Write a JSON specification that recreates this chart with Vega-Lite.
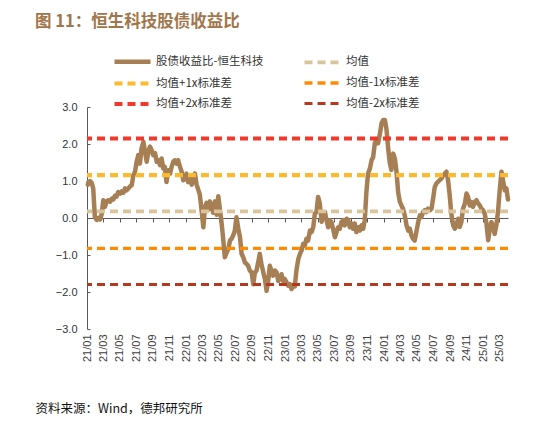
{
  "$schema": "https://vega.github.io/schema/vega-lite/v6.json",
  "width": 421,
  "height": 222,
  "autosize": {"type": "none"},
  "padding": {"left": 87, "top": 107, "right": 44, "bottom": 99},
  "background": "white",
  "config": {
    "view": {"stroke": null},
    "font": "Liberation Sans"
  },
  "title": {
    "text": "图 11：恒生科技股债收益比",
    "anchor": "start",
    "frame": "group",
    "dx": -52,
    "offset": 23,
    "font": "Noto Sans CJK SC",
    "fontSize": 16.5,
    "fontWeight": "bold",
    "color": "#A0764C"
  },
  "datasets": {
    "ratio": [
      {"d": "2021-01-04", "v": 0.90}, {"d": "2021-01-06", "v": 0.97}, {"d": "2021-01-12", "v": 1.00}, {"d": "2021-01-18", "v": 0.95},
      {"d": "2021-01-24", "v": 0.80}, {"d": "2021-01-30", "v": 0.02}, {"d": "2021-02-06", "v": -0.05}, {"d": "2021-02-12", "v": 0.00},
      {"d": "2021-02-18", "v": -0.04}, {"d": "2021-02-24", "v": 0.10}, {"d": "2021-03-02", "v": 0.48}, {"d": "2021-03-08", "v": 0.30},
      {"d": "2021-03-14", "v": 0.45}, {"d": "2021-03-21", "v": 0.48}, {"d": "2021-03-27", "v": 0.44}, {"d": "2021-04-02", "v": 0.52},
      {"d": "2021-04-08", "v": 0.50}, {"d": "2021-04-14", "v": 0.60}, {"d": "2021-04-20", "v": 0.58}, {"d": "2021-04-26", "v": 0.70},
      {"d": "2021-05-03", "v": 0.66}, {"d": "2021-05-09", "v": 0.72}, {"d": "2021-05-15", "v": 0.68}, {"d": "2021-05-21", "v": 0.80},
      {"d": "2021-05-27", "v": 0.75}, {"d": "2021-06-02", "v": 0.80}, {"d": "2021-06-08", "v": 0.85}, {"d": "2021-06-15", "v": 0.89},
      {"d": "2021-06-21", "v": 1.16}, {"d": "2021-06-27", "v": 1.25}, {"d": "2021-07-03", "v": 1.52}, {"d": "2021-07-09", "v": 1.70},
      {"d": "2021-07-15", "v": 1.47}, {"d": "2021-07-21", "v": 1.88}, {"d": "2021-07-28", "v": 2.06}, {"d": "2021-08-03", "v": 1.79},
      {"d": "2021-08-09", "v": 1.52}, {"d": "2021-08-15", "v": 1.79}, {"d": "2021-08-21", "v": 1.93}, {"d": "2021-08-27", "v": 1.84},
      {"d": "2021-09-02", "v": 1.70}, {"d": "2021-09-09", "v": 1.75}, {"d": "2021-09-15", "v": 1.52}, {"d": "2021-09-21", "v": 1.56},
      {"d": "2021-09-27", "v": 1.43}, {"d": "2021-10-03", "v": 1.61}, {"d": "2021-10-09", "v": 1.34}, {"d": "2021-10-15", "v": 1.38},
      {"d": "2021-10-21", "v": 0.97}, {"d": "2021-10-28", "v": 1.29}, {"d": "2021-11-03", "v": 1.20}, {"d": "2021-11-09", "v": 1.38},
      {"d": "2021-11-15", "v": 1.52}, {"d": "2021-11-21", "v": 1.56}, {"d": "2021-11-27", "v": 1.47}, {"d": "2021-12-03", "v": 1.56},
      {"d": "2021-12-10", "v": 1.38}, {"d": "2021-12-16", "v": 1.25}, {"d": "2021-12-22", "v": 1.02}, {"d": "2021-12-28", "v": 1.06},
      {"d": "2022-01-03", "v": 1.20}, {"d": "2022-01-09", "v": 0.97}, {"d": "2022-01-15", "v": 1.07}, {"d": "2022-01-22", "v": 0.90},
      {"d": "2022-01-28", "v": 1.11}, {"d": "2022-02-03", "v": 1.20}, {"d": "2022-02-09", "v": 0.90}, {"d": "2022-02-15", "v": 0.77},
      {"d": "2022-02-21", "v": 0.63}, {"d": "2022-02-27", "v": 0.23}, {"d": "2022-03-06", "v": -0.25}, {"d": "2022-03-12", "v": 0.30},
      {"d": "2022-03-18", "v": 0.41}, {"d": "2022-03-24", "v": 0.23}, {"d": "2022-03-30", "v": 0.45}, {"d": "2022-04-05", "v": 0.32},
      {"d": "2022-04-11", "v": 0.14}, {"d": "2022-04-18", "v": 0.45}, {"d": "2022-04-24", "v": 0.09}, {"d": "2022-04-30", "v": 0.59},
      {"d": "2022-05-06", "v": 0.23}, {"d": "2022-05-12", "v": -0.12}, {"d": "2022-05-18", "v": -0.56}, {"d": "2022-05-24", "v": -1.06},
      {"d": "2022-05-31", "v": -0.93}, {"d": "2022-06-06", "v": -0.84}, {"d": "2022-06-12", "v": -0.61}, {"d": "2022-06-18", "v": -0.56},
      {"d": "2022-06-24", "v": -0.47}, {"d": "2022-06-30", "v": -0.34}, {"d": "2022-07-06", "v": 0.02}, {"d": "2022-07-13", "v": -0.30},
      {"d": "2022-07-19", "v": -0.52}, {"d": "2022-07-25", "v": -0.97}, {"d": "2022-07-31", "v": -1.06}, {"d": "2022-08-06", "v": -1.20},
      {"d": "2022-08-12", "v": -1.24}, {"d": "2022-08-18", "v": -1.29}, {"d": "2022-08-24", "v": -1.42}, {"d": "2022-08-31", "v": -1.47},
      {"d": "2022-09-06", "v": -1.79}, {"d": "2022-09-12", "v": -1.47}, {"d": "2022-09-18", "v": -1.42}, {"d": "2022-09-24", "v": -1.20},
      {"d": "2022-09-30", "v": -0.97}, {"d": "2022-10-06", "v": -1.24}, {"d": "2022-10-13", "v": -1.47}, {"d": "2022-10-19", "v": -1.65},
      {"d": "2022-10-25", "v": -1.97}, {"d": "2022-10-31", "v": -1.70}, {"d": "2022-11-06", "v": -1.29}, {"d": "2022-11-12", "v": -1.42},
      {"d": "2022-11-18", "v": -1.56}, {"d": "2022-11-25", "v": -1.42}, {"d": "2022-12-01", "v": -1.47}, {"d": "2022-12-07", "v": -1.70},
      {"d": "2022-12-13", "v": -1.65}, {"d": "2022-12-19", "v": -1.52}, {"d": "2022-12-25", "v": -1.70}, {"d": "2022-12-31", "v": -1.65},
      {"d": "2023-01-07", "v": -1.74}, {"d": "2023-01-13", "v": -1.83}, {"d": "2023-01-19", "v": -1.79}, {"d": "2023-01-25", "v": -1.92},
      {"d": "2023-01-31", "v": -1.83}, {"d": "2023-02-06", "v": -1.85}, {"d": "2023-02-12", "v": -1.42}, {"d": "2023-02-19", "v": -1.11},
      {"d": "2023-02-25", "v": -0.97}, {"d": "2023-03-03", "v": -0.88}, {"d": "2023-03-09", "v": -0.70}, {"d": "2023-03-15", "v": -0.74},
      {"d": "2023-03-21", "v": -0.56}, {"d": "2023-03-27", "v": -0.61}, {"d": "2023-04-03", "v": -0.34}, {"d": "2023-04-09", "v": -0.38},
      {"d": "2023-04-15", "v": -0.25}, {"d": "2023-04-21", "v": 0.12}, {"d": "2023-04-27", "v": 0.16}, {"d": "2023-05-03", "v": 0.57},
      {"d": "2023-05-09", "v": 0.40}, {"d": "2023-05-16", "v": -0.10}, {"d": "2023-05-22", "v": 0.12}, {"d": "2023-05-28", "v": 0.16},
      {"d": "2023-06-03", "v": -0.06}, {"d": "2023-06-09", "v": -0.25}, {"d": "2023-06-15", "v": -0.06}, {"d": "2023-06-21", "v": -0.11},
      {"d": "2023-06-27", "v": -0.29}, {"d": "2023-07-04", "v": -0.52}, {"d": "2023-07-10", "v": -0.38}, {"d": "2023-07-16", "v": -0.25},
      {"d": "2023-07-22", "v": -0.29}, {"d": "2023-07-28", "v": -0.11}, {"d": "2023-08-03", "v": -0.06}, {"d": "2023-08-09", "v": -0.20},
      {"d": "2023-08-16", "v": -0.02}, {"d": "2023-08-22", "v": -0.06}, {"d": "2023-08-28", "v": -0.25}, {"d": "2023-09-03", "v": -0.15},
      {"d": "2023-09-09", "v": -0.29}, {"d": "2023-09-15", "v": -0.15}, {"d": "2023-09-21", "v": -0.38}, {"d": "2023-09-28", "v": -0.25},
      {"d": "2023-10-04", "v": -0.34}, {"d": "2023-10-10", "v": -0.20}, {"d": "2023-10-16", "v": -0.29}, {"d": "2023-10-22", "v": -0.06},
      {"d": "2023-10-28", "v": 0.70}, {"d": "2023-11-03", "v": 1.20}, {"d": "2023-11-10", "v": 1.34}, {"d": "2023-11-16", "v": 1.56},
      {"d": "2023-11-22", "v": 1.65}, {"d": "2023-11-28", "v": 2.02}, {"d": "2023-12-04", "v": 2.11}, {"d": "2023-12-10", "v": 2.02},
      {"d": "2023-12-16", "v": 2.24}, {"d": "2023-12-23", "v": 2.56}, {"d": "2023-12-29", "v": 2.65}, {"d": "2024-01-04", "v": 2.65},
      {"d": "2024-01-10", "v": 2.40}, {"d": "2024-01-16", "v": 1.90}, {"d": "2024-01-22", "v": 1.50}, {"d": "2024-01-28", "v": 1.30},
      {"d": "2024-02-04", "v": 1.74}, {"d": "2024-02-10", "v": 1.60}, {"d": "2024-02-16", "v": 1.25}, {"d": "2024-02-22", "v": 0.70},
      {"d": "2024-02-28", "v": 0.45}, {"d": "2024-03-05", "v": 0.34}, {"d": "2024-03-11", "v": 0.25}, {"d": "2024-03-18", "v": 0.05},
      {"d": "2024-03-24", "v": -0.20}, {"d": "2024-03-30", "v": -0.34}, {"d": "2024-04-05", "v": -0.29}, {"d": "2024-04-11", "v": -0.47},
      {"d": "2024-04-17", "v": -0.56}, {"d": "2024-04-23", "v": -0.61}, {"d": "2024-04-29", "v": -0.38}, {"d": "2024-05-06", "v": -0.11},
      {"d": "2024-05-12", "v": 0.07}, {"d": "2024-05-18", "v": 0.03}, {"d": "2024-05-24", "v": 0.16}, {"d": "2024-05-30", "v": 0.21},
      {"d": "2024-06-05", "v": 0.16}, {"d": "2024-06-11", "v": 0.25}, {"d": "2024-06-18", "v": 0.21}, {"d": "2024-06-24", "v": 0.25},
      {"d": "2024-06-30", "v": 0.53}, {"d": "2024-07-06", "v": 0.84}, {"d": "2024-07-12", "v": 0.93}, {"d": "2024-07-18", "v": 0.98},
      {"d": "2024-07-24", "v": 1.02}, {"d": "2024-07-31", "v": 1.07}, {"d": "2024-08-06", "v": 1.16}, {"d": "2024-08-12", "v": 1.20},
      {"d": "2024-08-18", "v": 1.25}, {"d": "2024-08-24", "v": 1.02}, {"d": "2024-08-30", "v": 0.62}, {"d": "2024-09-05", "v": 0.12},
      {"d": "2024-09-12", "v": -0.20}, {"d": "2024-09-18", "v": -0.29}, {"d": "2024-09-24", "v": -0.20}, {"d": "2024-09-30", "v": -0.02},
      {"d": "2024-10-06", "v": -0.24}, {"d": "2024-10-12", "v": -0.11}, {"d": "2024-10-18", "v": 0.25}, {"d": "2024-10-25", "v": 0.39},
      {"d": "2024-10-31", "v": 0.66}, {"d": "2024-11-06", "v": 0.57}, {"d": "2024-11-12", "v": 0.34}, {"d": "2024-11-18", "v": 0.43},
      {"d": "2024-11-24", "v": 0.30}, {"d": "2024-11-30", "v": 0.43}, {"d": "2024-12-07", "v": 0.48}, {"d": "2024-12-13", "v": 0.39},
      {"d": "2024-12-19", "v": 0.34}, {"d": "2024-12-25", "v": 0.25}, {"d": "2024-12-31", "v": 0.21}, {"d": "2025-01-06", "v": 0.12},
      {"d": "2025-01-12", "v": -0.11}, {"d": "2025-01-19", "v": -0.60}, {"d": "2025-01-25", "v": -0.30}, {"d": "2025-01-31", "v": -0.11},
      {"d": "2025-02-06", "v": -0.24}, {"d": "2025-02-12", "v": -0.43}, {"d": "2025-02-18", "v": -0.20}, {"d": "2025-02-24", "v": 0.16},
      {"d": "2025-03-02", "v": 0.71}, {"d": "2025-03-09", "v": 1.25}, {"d": "2025-03-15", "v": 1.00}, {"d": "2025-03-21", "v": 0.75},
      {"d": "2025-03-27", "v": 0.80}, {"d": "2025-04-02", "v": 0.50}
    ],
    "bands": [
      {"s": "均值", "v": 0.18},
      {"s": "均值+1x标准差", "v": 1.16},
      {"s": "均值-1x标准差", "v": -0.82},
      {"s": "均值+2x标准差", "v": 2.15},
      {"s": "均值-2x标准差", "v": -1.80}
    ]
  },
  "encoding": {
    "y": {
      "field": "v",
      "type": "quantitative",
      "scale": {"domain": [-3, 3], "nice": false, "zero": false},
      "axis": {
        "title": null,
        "values": [-3, -2, -1, 0, 1, 2, 3],
        "format": ".1f",
        "grid": false,
        "labelOverlap": false,
        "labelFlush": false,
        "domainColor": "#595959",
        "tickColor": "#595959",
        "tickSize": -3,
        "labelPadding": 13,
        "labelFont": "Liberation Sans",
        "labelFontSize": 11,
        "labelColor": "#333333"
      }
    }
  },
  "layer": [
    {
      "data": {"name": "ratio"},
      "mark": {"type": "line", "strokeJoin": "round", "strokeCap": "round"},
      "encoding": {
        "x": {
          "field": "d",
          "type": "temporal",
          "scale": {
            "type": "utc",
            "domain": [
              {"year": 2021, "month": 1, "date": 1, "utc": true},
              {"year": 2025, "month": 4, "date": 2, "utc": true}
            ]
          },
          "axis": {
            "title": "资料来源：Wind，德邦研究所",
            "format": "%y/%m",
            "tickCount": {"interval": "month", "step": 2},
            "labelAngle": 270,
            "labelAlign": "right",
            "labelBaseline": "middle",
            "labelPadding": 112,
            "labelOverlap": false,
            "labelFlush": false,
            "labelFont": "Liberation Sans",
            "labelFontSize": 11,
            "labelColor": "#404040",
            "offset": -111,
            "domainColor": "#595959",
            "tickColor": "#595959",
            "tickSize": 4,
            "grid": false,
            "titleFont": "Noto Sans CJK SC",
            "titleFontSize": 12.5,
            "titleFontWeight": "normal",
            "titleColor": "#111111",
            "titleAnchor": "start",
            "titleAlign": "left",
            "titleBaseline": "middle",
            "titleX": -52,
            "titleY": 190
          }
        },
        "color": {"datum": "股债收益比-恒生科技", "type": "nominal"},
        "strokeDash": {"datum": "股债收益比-恒生科技", "type": "nominal"},
        "strokeWidth": {"datum": "股债收益比-恒生科技", "type": "nominal"}
      }
    },
    {
      "data": {"name": "bands"},
      "mark": {"type": "rule"},
      "encoding": {
        "color": {
          "field": "s",
          "type": "nominal",
          "scale": {
            "domain": ["股债收益比-恒生科技", "均值+1x标准差", "均值+2x标准差", "均值", "均值-1x标准差", "均值-2x标准差"],
            "range": ["#A67F55", "#FDBA2F", "#F0392B", "#D9C49B", "#FF8C00", "#B5381F"]
          },
          "legend": {
            "orient": "none",
            "legendX": 25,
            "legendY": -54,
            "columns": 2,
            "title": null,
            "symbolType": "M-3,0H3",
            "symbolSize": 144,
            "symbolOffset": 12,
            "labelFont": "Noto Sans CJK SC",
            "labelFontSize": 11.5,
            "labelColor": "#333333",
            "labelOffset": 15,
            "columnPadding": 33,
            "rowPadding": 4
          }
        },
        "strokeDash": {
          "field": "s",
          "type": "nominal",
          "scale": {
            "domain": ["股债收益比-恒生科技", "均值+1x标准差", "均值+2x标准差", "均值", "均值-1x标准差", "均值-2x标准差"],
            "range": [[1, 0], [8, 5], [8, 5], [8, 5], [8, 5], [8, 5]]
          },
          "legend": null
        },
        "strokeWidth": {
          "field": "s",
          "type": "nominal",
          "scale": {
            "domain": ["股债收益比-恒生科技", "均值+1x标准差", "均值+2x标准差", "均值", "均值-1x标准差", "均值-2x标准差"],
            "range": [4.5, 3, 2.2, 3, 3, 2.2]
          },
          "legend": null
        }
      }
    }
  ]
}
